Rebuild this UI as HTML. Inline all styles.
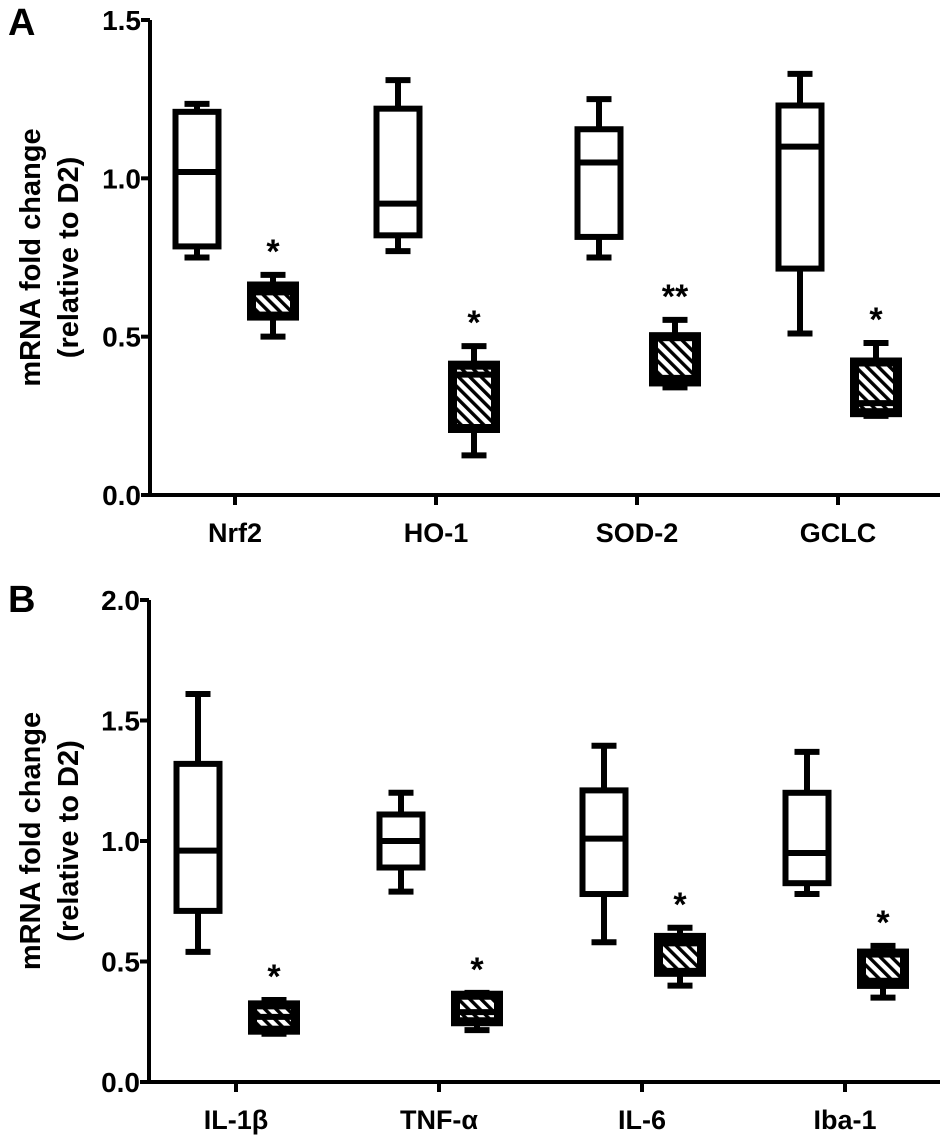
<!DOCTYPE html>
<html><head><meta charset="utf-8"><style>
html,body{margin:0;padding:0;background:#fff;}
svg{display:block;}
text{font-family:"Liberation Sans",Arial,sans-serif;font-weight:bold;fill:#000;}
</style></head><body>
<svg id="chart" width="940" height="1136" viewBox="0 0 940 1136" xmlns="http://www.w3.org/2000/svg">
<defs>
<pattern id="hatch" patternUnits="userSpaceOnUse" width="8" height="8" patternTransform="rotate(-45)">
<rect width="8" height="8" fill="#fff"/>
<rect x="0" y="0" width="3.4" height="8" fill="#000"/>
</pattern>
</defs>
</svg>
<script>
// Panel A data
const catsA = ["Nrf2","HO-1","SOD-2","GCLC"];
const ctrlA = [[0.75,0.785,1.02,1.21,1.235],[0.77,0.82,0.92,1.22,1.31],[0.75,0.815,1.05,1.155,1.25],[0.51,0.715,1.10,1.23,1.33]];
const trtA  = [[0.50,0.565,0.64,0.66,0.695],[0.125,0.21,0.38,0.41,0.47],[0.34,0.357,0.37,0.50,0.553],[0.25,0.26,0.29,0.42,0.48]];
const sigA  = ["*","*","**","*"];
const ticksA = [0,0.5,1.0,1.5];
const tickLabelsA = ["0.0","0.5","1.0","1.5"];
// Panel B data
const catsB = ["IL-1β","TNF-α","IL-6","Iba-1"];
const ctrlB = [[0.54,0.71,0.96,1.32,1.61],[0.79,0.89,1.0,1.11,1.20],[0.58,0.78,1.01,1.21,1.395],[0.78,0.825,0.95,1.20,1.37]];
const trtB  = [[0.20,0.215,0.27,0.32,0.34],[0.215,0.25,0.29,0.36,0.37],[0.40,0.455,0.575,0.60,0.64],[0.35,0.405,0.42,0.535,0.565]];
const sigB  = ["*","*","*","*"];
const ticksB = [0,0.5,1.0,1.5,2.0];
const tickLabelsB = ["0.0","0.5","1.0","1.5","2.0"];

const NS="http://www.w3.org/2000/svg";
const svg=document.getElementById('chart');
function mk(tag,attrs,parent){const e=document.createElementNS(NS,tag);for(const k in attrs)e.setAttribute(k,attrs[k]);(parent||svg).appendChild(e);return e;}

function panel(cfg){
  const g=mk('g',{});
  
  
  const y=v=>cfg.y0-(v-0)*(cfg.y0-cfg.yTop)/cfg.maxV;
  const x=i=>cfg.x0+i*cfg.dx;
  const ya=mk('line',{x1:cfg.ax,y1:y(cfg.maxV),x2:cfg.ax,y2:cfg.y0+2,stroke:'#000','stroke-width':4},g);
  
  
  const xa=mk('line',{x1:cfg.ax-2,y1:cfg.y0,x2:940,y2:cfg.y0,stroke:'#000','stroke-width':4},g);
  
  
  cfg.ticks.forEach((t,i)=>{
    mk('line',{x1:cfg.ax-9,y1:y(t),x2:cfg.ax,y2:y(t),stroke:'#000','stroke-width':4},g);
    const tl=mk('text',{x:cfg.ax-9,y:y(t)+10,'text-anchor':'end','font-size':28},g);
    tl.textContent=cfg.tickLabels[i];
    
    
  });
  cfg.cats.forEach((c,i)=>{
    mk('line',{x1:x(i),y1:cfg.y0,x2:x(i),y2:cfg.y0+10,stroke:'#000','stroke-width':4},g);
    const lb=mk('text',{x:x(i),y:cfg.y0+47,'text-anchor':'middle','font-size':27},g);
    lb.textContent=c;
    
    
    [[cfg.ctrl[i],x(i)-38,false],[cfg.trt[i],x(i)+38,true]].forEach(([d,cx,h])=>{
      const bg=mk('g',{},g);
      
      
      const sw=6,hw=21.5,cw=12.5;
      mk('line',{x1:cx,y1:y(d[0]),x2:cx,y2:y(d[1]),stroke:'#000','stroke-width':sw},bg);
      mk('line',{x1:cx,y1:y(d[3]),x2:cx,y2:y(d[4]),stroke:'#000','stroke-width':sw},bg);
      mk('line',{x1:cx-cw,y1:y(d[0]),x2:cx+cw,y2:y(d[0]),stroke:'#000','stroke-width':sw},bg);
      mk('line',{x1:cx-cw,y1:y(d[4]),x2:cx+cw,y2:y(d[4]),stroke:'#000','stroke-width':sw},bg);
      mk('rect',{x:cx-hw,y:y(d[3]),width:2*hw,height:y(d[1])-y(d[3]),fill:h?'url(#hatch)':'#fff',stroke:'#000','stroke-width':sw+(h?3:0)},bg);
      mk('line',{x1:cx-hw,y1:y(d[2]),x2:cx+hw,y2:y(d[2]),stroke:'#000','stroke-width':sw},bg);
    });
    const s=mk('text',{x:x(i)+38,y:y(cfg.trt[i][4])-12,'text-anchor':'middle','font-size':34},g);
    s.textContent=cfg.sig[i];
    
    
  });
  const yc=(cfg.y0+y(cfg.maxV))/2;
  const t=mk('text',{transform:`translate(${cfg.titleX},${yc}) rotate(-90)`,'text-anchor':'middle','font-size':29},g);
  
  
  const t1=mk('tspan',{x:0,dy:0},t);t1.textContent='mRNA fold change';
  const t2=mk('tspan',{x:0,dy:38},t);t2.textContent='(relative to D2)';
  const L=mk('text',{x:8,y:cfg.letterY,'font-size':38},g);
  L.textContent=cfg.id;
  
  
}
panel({id:'A',cats:catsA,ctrl:ctrlA,trt:trtA,sig:sigA,ticks:ticksA,tickLabels:tickLabelsA,maxV:1.5,y0:495,yTop:20,ax:150,x0:235,dx:201,titleX:40,letterY:35});
panel({id:'B',cats:catsB,ctrl:ctrlB,trt:trtB,sig:sigB,ticks:ticksB,tickLabels:tickLabelsB,maxV:2.0,y0:1082,yTop:600,ax:149,x0:236,dx:203,titleX:40,letterY:612});
</script>
</body></html>
